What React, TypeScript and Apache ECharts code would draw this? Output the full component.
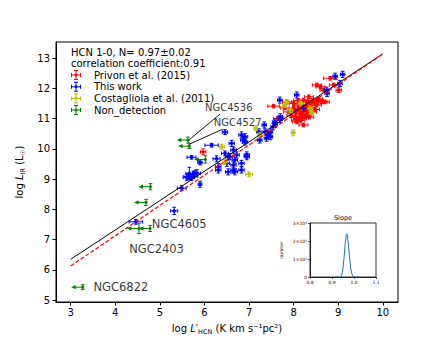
import React, { useEffect, useRef } from "react";
import * as echarts from "echarts";

// ---------- data ----------
const xTicks = [3, 4, 5, 6, 7, 8, 9, 10];
const yTicks = [5, 6, 7, 8, 9, 10, 11, 12, 13];

// [logL'HCN, logLIR, xerr, yerr]
const privon: number[][] = [
  [5.97, 9.9, 0.06, 0.1], [7.55, 11.41, 0.13, 0.06], [7.65, 11.0, 0.1, 0.06], [7.7, 11.03, 0.08, 0.05],
  [7.85, 11.55, 0.1, 0.06], [7.89, 11.22, 0.12, 0.06], [8.0, 11.34, 0.1, 0.06], [8.04, 11.06, 0.1, 0.06],
  [8.07, 10.89, 0.1, 0.06], [8.11, 11.45, 0.1, 0.06], [8.15, 11.17, 0.1, 0.06], [8.19, 11.0, 0.1, 0.06],
  [8.22, 11.61, 0.1, 0.06], [8.26, 11.28, 0.1, 0.06], [8.3, 11.12, 0.1, 0.06], [8.34, 11.72, 0.1, 0.06],
  [8.37, 11.45, 0.1, 0.06], [8.41, 11.22, 0.1, 0.06], [8.45, 11.55, 0.1, 0.06], [8.52, 11.45, 0.1, 0.06],
  [8.63, 11.55, 0.12, 0.06], [8.22, 10.79, 0.1, 0.06], [8.52, 12.11, 0.1, 0.06], [8.6, 12.05, 0.1, 0.06],
  [8.82, 12.33, 0.15, 0.06], [8.9, 12.11, 0.1, 0.06], [9.01, 11.94, 0.06, 0.08], [8.67, 11.94, 0.08, 0.06],
  [8.59, 11.58, 0.08, 0.06], [7.95, 11.1, 0.1, 0.06], [8.05, 11.25, 0.1, 0.06], [8.1, 11.0, 0.1, 0.06],
  [8.12, 11.3, 0.1, 0.06], [8.18, 11.4, 0.1, 0.06], [8.2, 11.15, 0.1, 0.06], [8.25, 11.05, 0.1, 0.06],
  [8.28, 11.4, 0.1, 0.06], [8.32, 11.25, 0.1, 0.06], [8.35, 11.05, 0.1, 0.06], [8.38, 11.35, 0.1, 0.06],
  [8.42, 11.6, 0.1, 0.06], [8.48, 11.3, 0.1, 0.06], [8.55, 11.65, 0.1, 0.06], [8.7, 11.55, 0.1, 0.06],
  [8.0, 11.5, 0.1, 0.06], [7.8, 11.35, 0.1, 0.06], [8.15, 10.95, 0.1, 0.06], [8.05, 10.95, 0.1, 0.06],
  [8.3, 11.55, 0.1, 0.06], [8.1, 11.6, 0.1, 0.06],
];

const thisWork: number[][] = [
  [5.32, 7.95, 0.08, 0.12], [4.46, 7.59, 0.15, 0.08], [5.49, 8.7, 0.1, 0.08], [5.9, 8.83, 0.04, 0.1],
  [5.66, 9.19, 0.08, 0.2], [5.75, 9.14, 0.08, 0.12], [5.83, 9.19, 0.08, 0.12], [5.64, 9.08, 0.1, 0.1],
  [5.6, 9.06, 0.08, 0.1], [5.71, 9.72, 0.1, 0.06], [5.9, 9.55, 0.05, 0.08], [6.16, 10.12, 0.15, 0.06],
  [6.46, 10.55, 0.06, 0.08], [6.27, 9.67, 0.08, 0.1], [6.31, 9.41, 0.06, 0.1], [6.46, 9.85, 0.08, 0.08],
  [6.5, 9.52, 0.06, 0.1], [6.57, 9.74, 0.06, 0.1], [6.61, 10.18, 0.06, 0.1], [6.65, 9.96, 0.06, 0.1],
  [6.65, 9.3, 0.06, 0.1], [6.68, 9.63, 0.06, 0.1], [6.72, 9.8, 0.06, 0.1], [6.83, 10.46, 0.06, 0.1],
  [6.87, 10.29, 0.06, 0.1], [6.91, 10.4, 0.06, 0.1], [6.83, 9.52, 0.06, 0.1], [6.83, 9.3, 0.06, 0.1],
  [6.95, 9.74, 0.06, 0.1], [6.53, 9.24, 0.06, 0.1], [6.31, 9.3, 0.06, 0.1], [6.53, 9.74, 0.06, 0.1],
  [6.65, 9.47, 0.06, 0.1], [6.68, 9.24, 0.06, 0.1], [6.91, 10.23, 0.06, 0.1], [6.95, 9.8, 0.06, 0.1],
  [7.22, 10.56, 0.05, 0.1], [7.24, 10.29, 0.05, 0.1], [7.36, 10.56, 0.05, 0.1], [7.39, 10.35, 0.05, 0.1],
  [7.43, 10.46, 0.05, 0.1], [7.34, 10.79, 0.05, 0.1], [7.54, 10.73, 0.05, 0.1], [7.69, 10.97, 0.05, 0.1],
  [7.58, 10.89, 0.05, 0.1], [7.69, 11.61, 0.05, 0.1], [8.07, 11.78, 0.05, 0.1], [8.22, 11.34, 0.05, 0.1],
  [8.74, 11.94, 0.05, 0.1], [8.93, 12.4, 0.05, 0.1], [9.1, 12.46, 0.05, 0.1], [9.04, 12.16, 0.05, 0.1],
  [7.48, 10.4, 0.05, 0.1], [7.48, 10.56, 0.05, 0.1], [7.59, 10.81, 0.05, 0.1], [7.7, 11.06, 0.05, 0.1],
  [8.75, 11.83, 0.05, 0.1], [5.79, 9.19, 0.06, 0.1], [5.71, 9.06, 0.06, 0.1],
];

const costagliola: number[][] = [
  [7.15, 10.68, 0.04, 0.08], [6.39, 10.07, 0.06, 0.08], [7.0, 9.16, 0.08, 0.08], [7.99, 10.53, 0.04, 0.1],
  [6.46, 9.57, 0.05, 0.08], [7.84, 11.55, 0.05, 0.08], [7.92, 11.28, 0.05, 0.08], [8.37, 11.34, 0.05, 0.08],
  [8.15, 11.5, 0.05, 0.08], [7.8, 11.45, 0.05, 0.08], [7.24, 10.45, 0.05, 0.08], [8.4, 11.2, 0.05, 0.08],
];

// [x, y, upper-limit arrow length, yerr]
const nonDetection: number[][] = [
  [5.63, 10.29, 0.25, 0.1], [5.66, 10.09, 0.25, 0.08], [6.02, 9.65, 0.25, 0.12],
  [4.79, 8.75, 0.27, 0.1], [4.69, 8.23, 0.27, 0.1], [4.53, 7.37, 0.27, 0.17],
  [4.78, 7.37, 0.25, 0.1], [3.27, 5.43, 0.26, 0.08],
];

const fitBlack = [[3, 6.35], [10, 13.14]];
const fitRed = [[3, 6.13], [10, 13.13]];
const leader1 = [[6.35, 11.15], [5.65, 10.29]];
const leader2 = [[6.41, 10.65], [5.67, 10.16]];

const annotNames = ["NGC4536", "NGC4527", "NGC4605", "NGC2403", "NGC6822"];
const annotPos = [[6.01, 11.37], [6.21, 10.88], [4.82, 7.52], [4.31, 6.69], [3.51, 5.42]];
const annotSize = [10, 10, 11.5, 11.5, 11.5];

const slopeX = [0.92, 0.935, 0.94, 0.945, 0.95, 0.955, 0.96, 0.965, 0.967, 0.97, 0.975, 0.98, 0.985, 0.99, 0.995, 1.0, 1.005, 1.02];
const slopeY = [0, 0, 2000, 15000, 50000, 110000, 185000, 235000, 240000, 230000, 175000, 105000, 50000, 18000, 5000, 1000, 0, 0];

const legendNames = ["Privon et al. (2015)", "This work", "Costagliola et al. (2011)", "Non_detection"];
const colors = ["#ff0000", "#0000ff", "#bfbf00", "#008000"];

const FONT = "DejaVu Sans";
const ICON =
  "path://M0,4.5h10v1h-10z M4.5,0h1v10h-1z M0,3h1v4h-1z M9,3h1v4h-1z M3,0h4v1h-4z M3,9h4v1h-4z M3.8,3.8h2.4v2.4h-2.4z";

const makeErr = (color: string) => (_p: any, api: any) => {
  const x = api.value(0), y = api.value(1), xe = api.value(2), ye = api.value(3);
  const c = api.coord([x, y]);
  const xl = api.coord([x - xe, y])[0];
  const xr = api.coord([x + xe, y])[0];
  const yt = api.coord([x, y + ye])[1];
  const yb = api.coord([x, y - ye])[1];
  const cap = 1.8;
  const st = { stroke: color, lineWidth: 1, fill: null };
  return {
    type: "group",
    children: [
      { type: "line", shape: { x1: xl, y1: c[1], x2: xr, y2: c[1] }, style: st },
      { type: "line", shape: { x1: c[0], y1: yt, x2: c[0], y2: yb }, style: st },
      { type: "line", shape: { x1: xl, y1: c[1] - cap, x2: xl, y2: c[1] + cap }, style: st },
      { type: "line", shape: { x1: xr, y1: c[1] - cap, x2: xr, y2: c[1] + cap }, style: st },
      { type: "line", shape: { x1: c[0] - cap, y1: yt, x2: c[0] + cap, y2: yt }, style: st },
      { type: "line", shape: { x1: c[0] - cap, y1: yb, x2: c[0] + cap, y2: yb }, style: st },
      { type: "circle", shape: { cx: c[0], cy: c[1], r: 1.7 }, style: { fill: color, stroke: color, lineWidth: 0.4 } },
    ],
  };
};

const makeLimit = (color: string) => (_p: any, api: any) => {
  const x = api.value(0), y = api.value(1), len = api.value(2), ye = api.value(3);
  const c = api.coord([x, y]);
  const xl = api.coord([x - len, y])[0];
  const yt = api.coord([x, y + ye])[1];
  const yb = api.coord([x, y - ye])[1];
  const cap = 1.8;
  const st = { stroke: color, lineWidth: 1, fill: null };
  return {
    type: "group",
    children: [
      { type: "line", shape: { x1: xl + 2, y1: c[1], x2: c[0], y2: c[1] }, style: st },
      { type: "polygon", shape: { points: [[xl, c[1]], [xl + 4.5, c[1] - 2.2], [xl + 4.5, c[1] + 2.2]] }, style: { fill: color } },
      { type: "line", shape: { x1: c[0], y1: yt, x2: c[0], y2: yb }, style: st },
      { type: "line", shape: { x1: c[0] - cap, y1: yt, x2: c[0] + cap, y2: yt }, style: st },
      { type: "line", shape: { x1: c[0] - cap, y1: yb, x2: c[0] + cap, y2: yb }, style: st },
      { type: "circle", shape: { cx: c[0], cy: c[1], r: 1.5 }, style: { fill: color } },
    ],
  };
};

export default function App() {
  const ref = useRef<HTMLDivElement>(null);
  useEffect(() => {
    if (!ref.current) return;
    const chart = echarts.init(ref.current, undefined, { renderer: "svg" });
    const axisCommon = {
      axisLine: { show: true, lineStyle: { color: "#000", width: 1 } },
      splitLine: { show: false },
    };
    const option: any = {
      animation: false,
      backgroundColor: "#fff",
      textStyle: { fontFamily: FONT },
      grid: [
        { left: 56, top: 42, right: 45, bottom: 44, show: true, borderColor: "#000", borderWidth: 1 },
        { left: 310, top: 223, width: 66, height: 54, show: true, borderColor: "#000", borderWidth: 0.8, backgroundColor: "#fff" },
      ],
      xAxis: [
        {
          ...axisCommon,
          type: "value", gridIndex: 0, min: 2.67, max: 10.34,
          axisTick: { show: true, length: 3.5, customValues: xTicks, lineStyle: { color: "#000" } },
          axisLabel: { customValues: xTicks, fontSize: 10, color: "#000", margin: 5, fontFamily: FONT },
          name: "log {i|L}′{s|HCN} (K km s⁻¹pc²)",
          nameLocation: "middle", nameGap: 15,
          nameTextStyle: {
            fontSize: 10, color: "#000", fontFamily: FONT, lineHeight: 14,
            rich: {
              i: { fontStyle: "italic", fontSize: 10, fontFamily: FONT, color: "#000", lineHeight: 14 },
              s: { fontSize: 6.5, fontFamily: FONT, color: "#000", lineHeight: 8, verticalAlign: "bottom" },
            },
          },
        },
        {
          ...axisCommon,
          type: "value", gridIndex: 1, min: 0.8, max: 1.1, interval: 0.1,
          axisLine: { show: true, lineStyle: { color: "#000", width: 0.8 } },
          axisTick: { show: true, length: 2, lineStyle: { color: "#000", width: 0.6 } },
          axisLabel: { fontSize: 4.5, color: "#000", margin: 3, formatter: (v: number) => v.toFixed(1) },
        },
      ],
      yAxis: [
        {
          ...axisCommon,
          type: "value", gridIndex: 0, min: 4.94, max: 13.53,
          axisTick: { show: true, length: 3.5, customValues: yTicks, lineStyle: { color: "#000" } },
          axisLabel: { customValues: yTicks, fontSize: 10, color: "#000", margin: 6, fontFamily: FONT },
          name: "log {i|L}{s|IR} (L{s|☉})",
          nameLocation: "middle", nameGap: 20,
          nameTextStyle: {
            fontSize: 10, color: "#000", fontFamily: FONT, lineHeight: 14,
            rich: {
              i: { fontStyle: "italic", fontSize: 10, fontFamily: FONT, color: "#000", lineHeight: 14 },
              s: { fontSize: 6.5, fontFamily: FONT, color: "#000", lineHeight: 8, verticalAlign: "bottom" },
            },
          },
        },
        {
          ...axisCommon,
          type: "value", gridIndex: 1, min: 0, max: 300000, interval: 100000,
          axisLine: { show: true, lineStyle: { color: "#000", width: 0.8 } },
          axisTick: { show: true, length: 2, lineStyle: { color: "#000", width: 0.6 } },
          axisLabel: {
            fontSize: 4.5, color: "#000", margin: 3,
            formatter: (v: number) => (v === 0 ? "0" : `${Math.round(v / 100000)}×10⁵`),
          },
          name: "number", nameLocation: "middle", nameGap: 26,
          nameTextStyle: { fontSize: 4.5, color: "#000" },
        },
      ],
      legend: {
        orient: "vertical", left: 66, top: 65, itemWidth: 12, itemHeight: 10, itemGap: 1.7,
        selectedMode: false,
        textStyle: { fontSize: 10, color: "#000", fontFamily: FONT, lineHeight: 10, padding: [0, 0, 0, 7] },
        data: legendNames.map((n) => ({ name: n, icon: ICON })),
      },
      graphic: [
        { type: "text", left: 71, top: 47.5, style: { text: "HCN 1-0, N= 0.97±0.02", fontSize: 10, fontFamily: FONT, fill: "#000" } },
        { type: "text", left: 71, top: 58, style: { text: "correlation coefficient:0.91", fontSize: 10, fontFamily: FONT, fill: "#000" } },
        { type: "text", x: 343, y: 218, style: { text: "Slope", fontSize: 6.5, fontFamily: FONT, fill: "#000", align: "center", verticalAlign: "middle" } },
      ],
      series: [
        ...[privon, thisWork, costagliola].map((d, i) => ({
          type: "custom", name: legendNames[i], xAxisIndex: 0, yAxisIndex: 0,
          data: d, renderItem: makeErr(colors[i]), itemStyle: { color: colors[i] },
          encode: { x: 0, y: 1 }, silent: true, z: 2 + i,
        })),
        {
          type: "custom", name: legendNames[3], xAxisIndex: 0, yAxisIndex: 0,
          data: nonDetection, renderItem: makeLimit(colors[3]), itemStyle: { color: colors[3] },
          encode: { x: 0, y: 1 }, silent: true, z: 5,
        },
        {
          type: "line", name: "fit", data: fitBlack, symbol: "none", silent: true, z: 6,
          lineStyle: { color: "#000", width: 1 }, itemStyle: { color: "#000" },
        },
        {
          type: "line", name: "fit1", data: fitRed, symbol: "none", silent: true, z: 6,
          lineStyle: { color: "#ff0000", width: 1.2, type: [4, 2] }, itemStyle: { color: "#ff0000" },
        },
        ...[leader1, leader2].map((d, i) => ({
          type: "line", name: "leader" + i, data: d, symbol: "none", silent: true, z: 6,
          lineStyle: { color: "#000", width: 0.9 }, itemStyle: { color: "#000" },
        })),
        {
          type: "scatter", name: "annot", symbolSize: 0, silent: true, z: 7,
          data: annotNames.map((n, i) => ({
            name: n, value: annotPos[i],
            label: {
              show: true, position: "right", distance: 0, formatter: n, fontSize: annotSize[i],
              color: "#000", fontFamily: FONT, align: "left", verticalAlign: "middle",
            },
          })),
        },
        {
          type: "line", name: "slope", xAxisIndex: 1, yAxisIndex: 1,
          data: slopeX.map((x, i) => [x, slopeY[i]]), symbol: "none", silent: true, z: 8,
          lineStyle: { color: "#1f77b4", width: 1 }, itemStyle: { color: "#1f77b4" },
        },
      ],
    };
    chart.setOption(option);
    return () => chart.dispose();
  }, []);
  return (
    <div
      ref={ref}
      style={{ position: "fixed", left: 0, top: 0, width: 443, height: 346, background: "#fff" }}
    />
  );
}
